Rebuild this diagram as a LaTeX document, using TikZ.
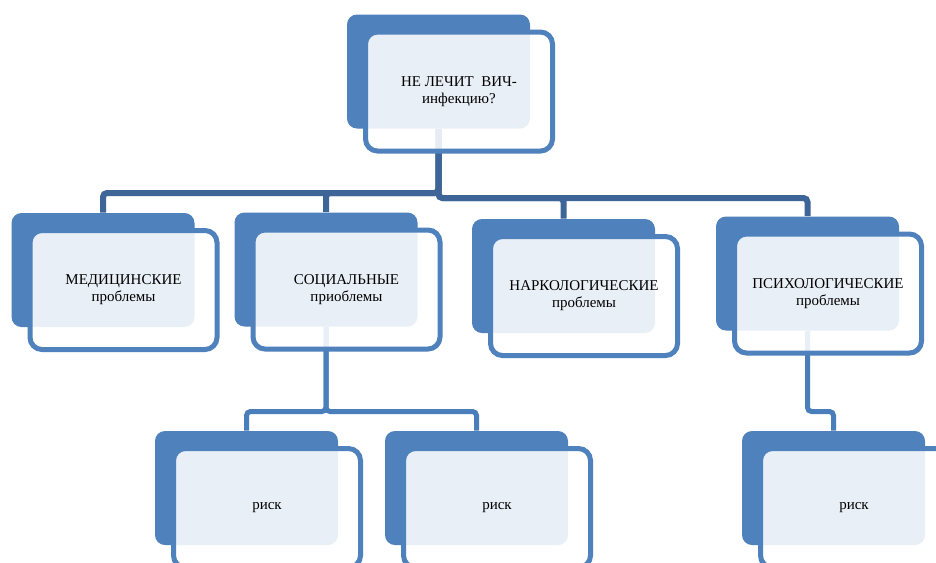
\documentclass[tikz,border=0pt]{standalone}
\usepackage{fontspec}
\setmainfont{Liberation Serif}
\usetikzlibrary{backgrounds}
\definecolor{boxblue}{HTML}{4F81BD}
\definecolor{connA}{HTML}{3E6597}
\definecolor{connB}{HTML}{4A7EBB}
\tikzset{
  backbox/.style={rectangle, rounded corners=7.5pt, fill=boxblue, draw=none,
    minimum width=137.25pt, minimum height=85.5pt, inner sep=0pt},
  frontbox/.style={rectangle, rounded corners=9pt, draw=boxblue, line width=3.75pt,
    fill=white, fill opacity=0.88, draw opacity=1, text opacity=1,
    minimum width=140.25pt, minimum height=89.25pt, inner sep=0pt,
    align=center, text=black, font=\fontsize{11.25pt}{12.75pt}\selectfont},
  connone/.style={draw=connA, line width=4.5pt, rounded corners=3pt},
  conntwo/.style={draw=connB, line width=3.75pt, rounded corners=3pt},
}
\begin{document}
\begin{tikzpicture}[x=0.75pt,y=-0.75pt]
\useasboundingbox (0,0) rectangle (936,562);
\clip (0,0) rectangle (936,562);

% back boxes
\node[backbox] (b0) at (438.5,71.5) {};
\node[backbox] (b1) at (103,270) {};
\node[backbox] (b2) at (326,269.5) {};
\node[backbox] (b3) at (563.5,276) {};
\node[backbox] (b4) at (807.5,273.5) {};
\node[backbox] (b5) at (246.5,488) {};
\node[backbox] (b6) at (476.5,488) {};
\node[backbox] (b7) at (833.5,488) {};

% front boxes with text
\node[frontbox] (t0) at ([shift={(20.5,20)}]b0.center) {НЕ ЛЕЧИТ\enspace ВИЧ-\\инфекцию?};
\node[frontbox] (t1) at ([shift={(20.5,20)}]b1.center) {МЕДИЦИНСКИЕ\\проблемы};
\node[frontbox] (t2) at ([shift={(20.5,20)}]b2.center) {СОЦИАЛЬНЫЕ\\приоблемы};
\node[frontbox] (t3) at ([shift={(20.5,20)}]b3.center) {НАРКОЛОГИЧЕСКИЕ\\проблемы};
\node[frontbox] (t4) at ([shift={(20.5,20)}]b4.center) {ПСИХОЛОГИЧЕСКИЕ\\проблемы};
\node[frontbox] (t5) at ([shift={(20.5,20)}]b5.center) {риск};
\node[frontbox] (t6) at ([shift={(20.5,20)}]b6.center) {риск};
\node[frontbox] (t7) at ([shift={(20.5,20)}]b7.center) {риск};

% connectors under the boxes
\coordinate (hl) at (0,193);
\coordinate (hr) at (0,198);
\coordinate (hs) at (0,411.5);
\begin{scope}[on background layer]
\fill[white] (0,0) rectangle (936,562);
\draw[connone] (b0.south) |- (b1.north |- hl) -- (b1.north);
\draw[connone] (b0.south) |- (b2.north |- hl) -- (b2.north);
\draw[connone] (b0.south) |- (b3.north |- hr) -- (b3.north);
\draw[connone] (b0.south) |- (b4.north |- hr) -- (b4.north);
\draw[conntwo] (b2.south) |- (b5.north |- hs) -- (b5.north);
\draw[conntwo] (b2.south) |- (b6.north |- hs) -- (b6.north);
\draw[conntwo] (b4.south) |- (b7.north |- hs) -- (b7.north);
\end{scope}
\end{tikzpicture}
\end{document}
